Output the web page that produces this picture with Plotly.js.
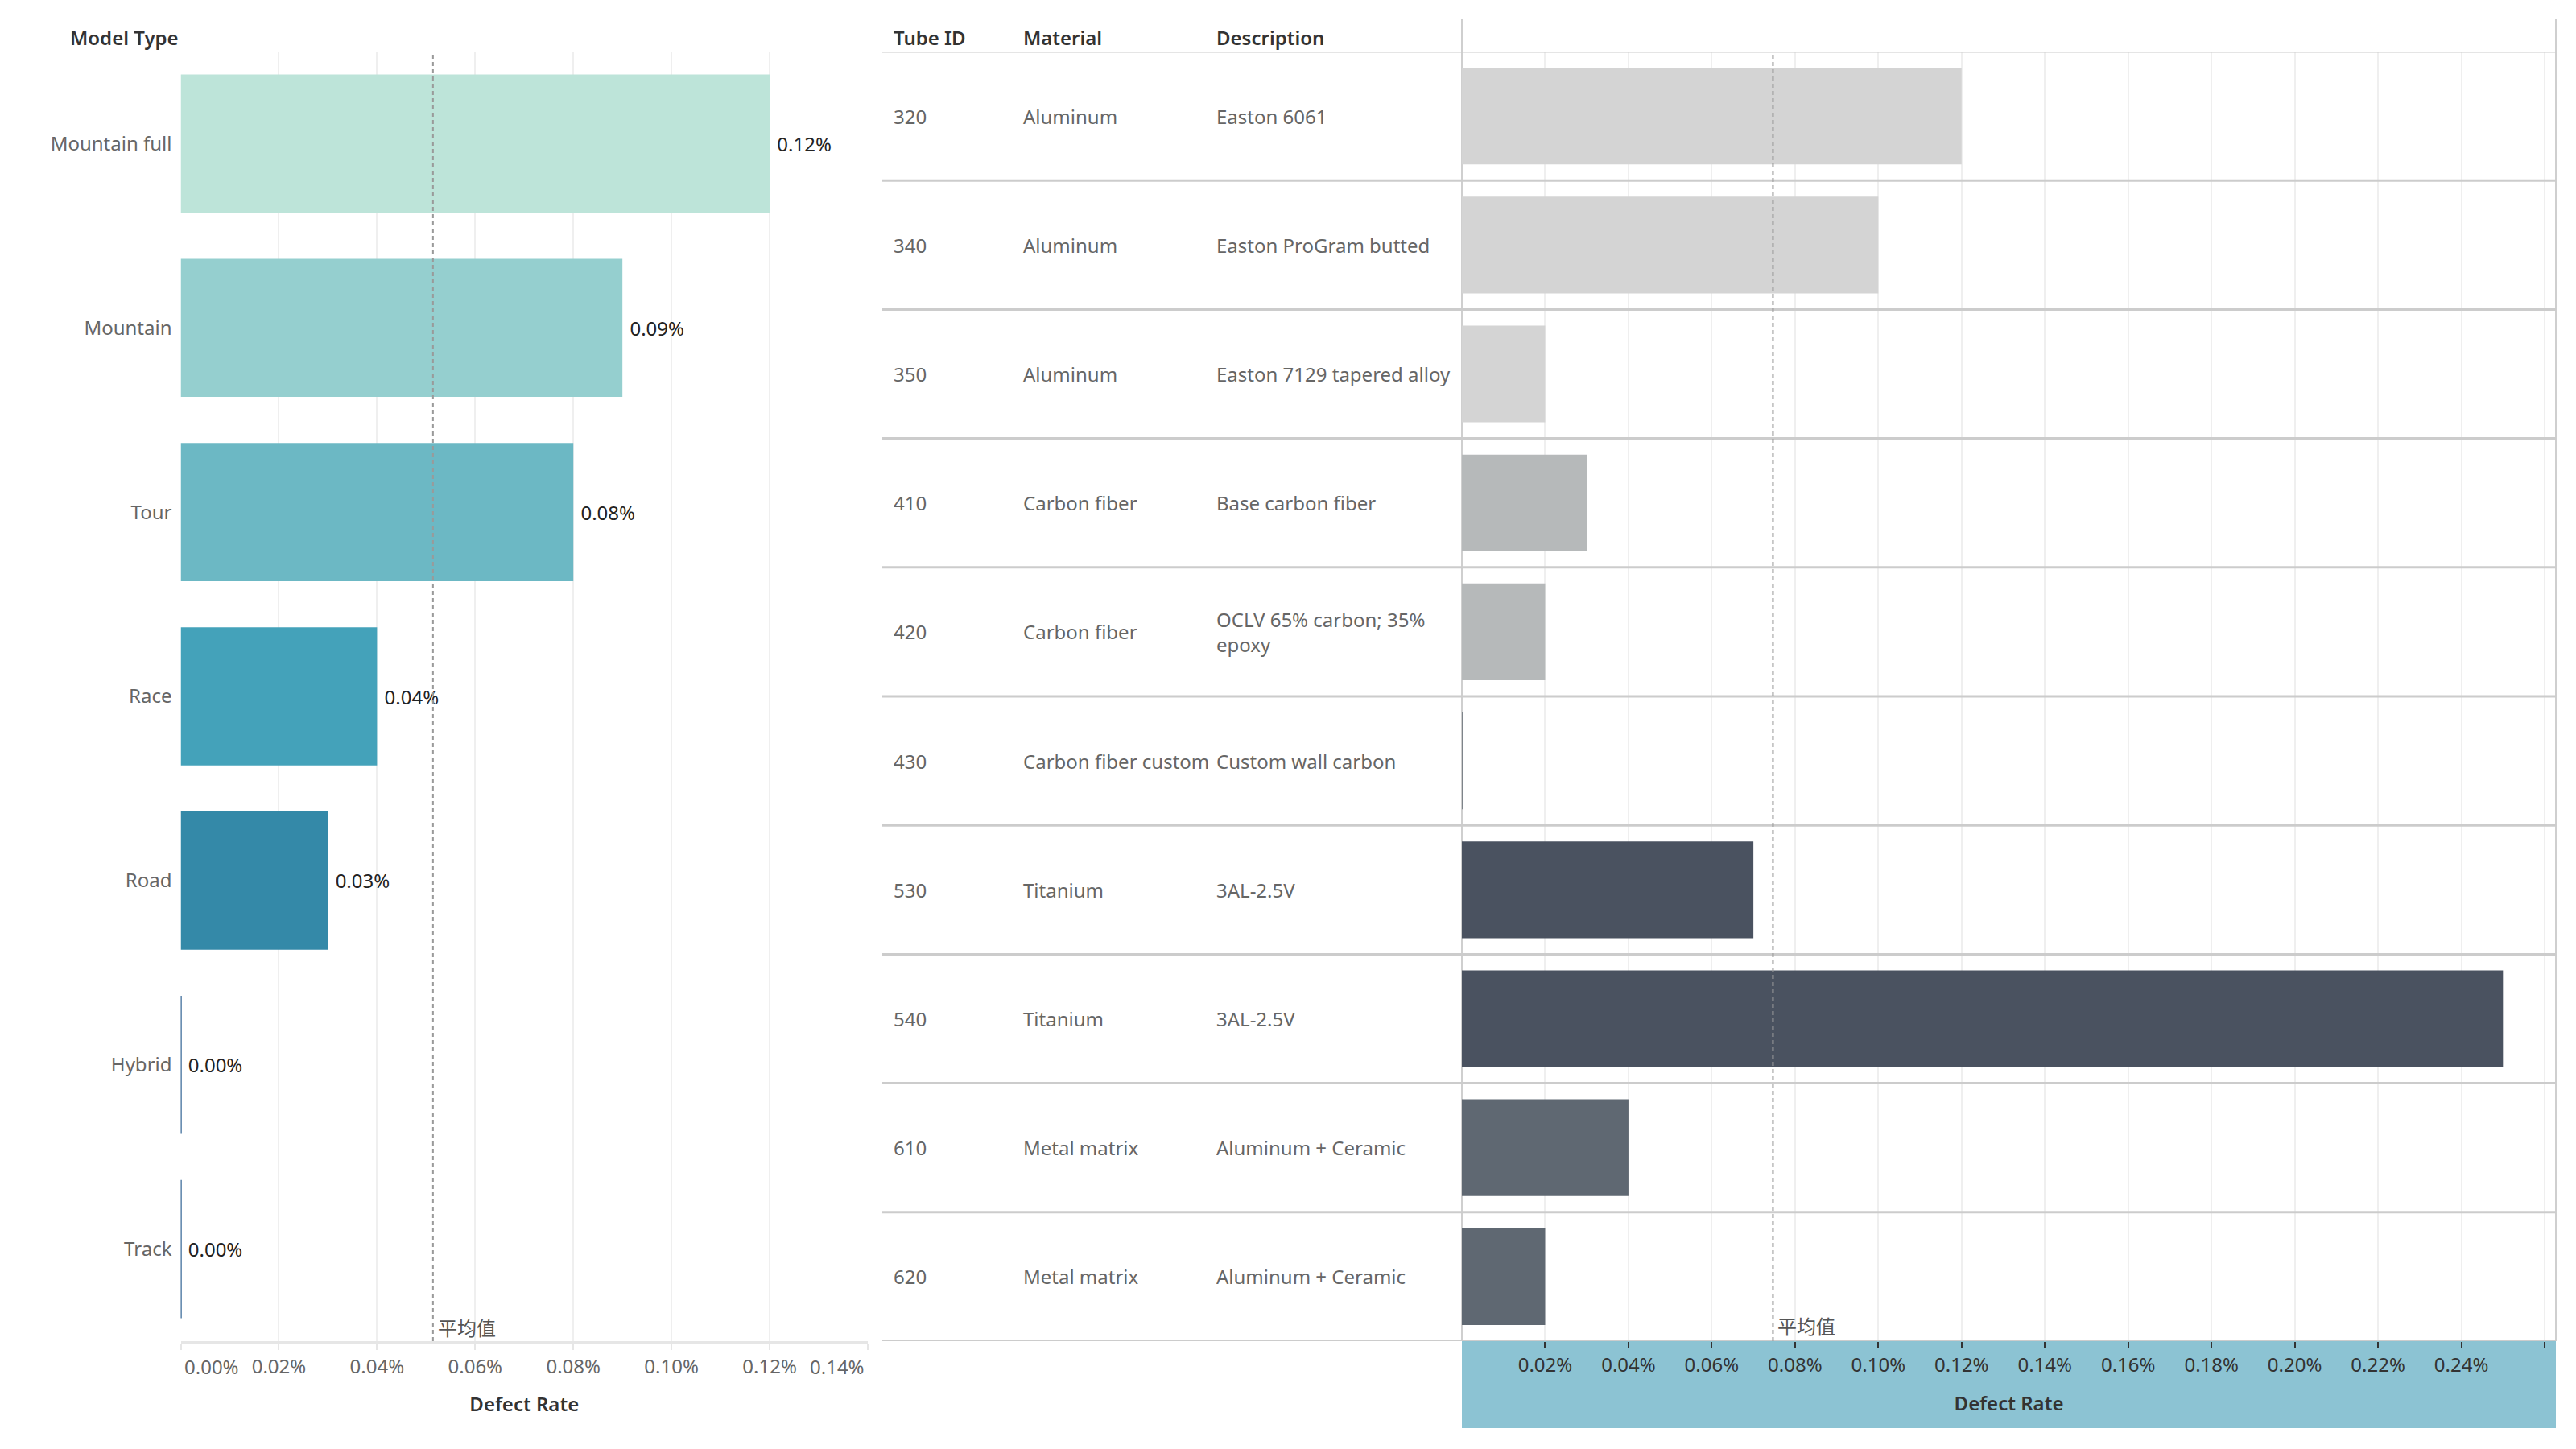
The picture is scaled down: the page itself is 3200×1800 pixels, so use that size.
<!DOCTYPE html>
<html>
<head>
<meta charset="utf-8">
<script src="https://cdn.plot.ly/plotly-3.0.1.min.js"></script>
<style>html,body{margin:0;padding:0;background:#fff;}#chart{width:3200px;height:1800px;}</style>
</head>
<body>
<div id="chart"></div>
<script>
// ---------- data ----------
const modelTypes = ['Mountain full', 'Mountain', 'Tour', 'Race', 'Road', 'Hybrid', 'Track'];
const modelDefectRate = [0.12, 0.09, 0.08, 0.04, 0.03, 0, 0];          // percent
const modelColors = ['#BDE4D9', '#95CFCF', '#6CB8C4', '#44A2BA', '#3489A8', '#3A6A98', '#3A6A98'];
const modelAverage = 0.0514;                                              // percent

const tubeIds = ['320', '340', '350', '410', '420', '430', '530', '540', '610', '620'];
const tubeMaterials = ['Aluminum', 'Aluminum', 'Aluminum', 'Carbon fiber', 'Carbon fiber',
  'Carbon fiber custom', 'Titanium', 'Titanium', 'Metal matrix', 'Metal matrix'];
const tubeDescriptions = ['Easton 6061', 'Easton ProGram butted', 'Easton 7129 tapered alloy',
  'Base carbon fiber', 'OCLV 65% carbon; 35%<br>epoxy', 'Custom wall carbon', '3AL-2.5V', '3AL-2.5V',
  'Aluminum + Ceramic', 'Aluminum + Ceramic'];
const tubeDefectRate = [0.12, 0.10, 0.02, 0.03, 0.02, 0, 0.07, 0.25, 0.04, 0.02];   // percent
const tubeAverage = 0.0747;                                               // percent
const materialColors = {
  'Aluminum': '#D4D4D4', 'Carbon fiber': '#B6B9BA', 'Carbon fiber custom': '#7E848A',
  'Titanium': '#4A5260', 'Metal matrix': '#5F6872'
};
const tableHeaders = ['Tube ID', 'Material', 'Description'];

const leftTicks = [0, 0.02, 0.04, 0.06, 0.08, 0.10, 0.12, 0.14];
const rightTicks = [0.02, 0.04, 0.06, 0.08, 0.10, 0.12, 0.14, 0.16, 0.18, 0.20, 0.22, 0.24, 0.26];
const pct = v => v.toFixed(2) + '%';

// ---------- styling ----------
const FONT = 'Noto Sans, Noto Sans CJK SC, sans-serif';
const CJK = 'Noto Sans CJK SC, Noto Sans, sans-serif';
const W = 3200, H = 1800;
const px = v => v / W, py = v => 1 - v / H;

const leftDom = [px(224.5), px(1078)];
const rightDom = [px(1816), px(3175)];
const yDom = [py(1666), py(64)];
const colX = [px(1108), px(1269), px(1509)];
const rowIndex = tubeIds.map((_, i) => i);   // row slot of each tube on the table axis

const zeroLineW = v => v === 0 ? 2.5 : 0;

const traces = [
  {
    type: 'bar', orientation: 'h', x: modelDefectRate, y: modelTypes, xaxis: 'x', yaxis: 'y',
    marker: { color: modelColors, line: { color: modelColors, width: modelDefectRate.map(zeroLineW) } },
    text: modelDefectRate.map(v => ' ' + pct(v)), textposition: 'outside', cliponaxis: false,
    textfont: { family: FONT, size: 24, color: '#222' }, hoverinfo: 'skip'
  },
  {
    type: 'bar', orientation: 'h', x: tubeDefectRate, y: rowIndex, xaxis: 'x2', yaxis: 'y2',
    marker: {
      color: tubeMaterials.map(m => materialColors[m]),
      line: { color: tubeMaterials.map(m => materialColors[m]), width: tubeDefectRate.map(zeroLineW) }
    },
    cliponaxis: false, hoverinfo: 'skip'
  }
];

const annotations = [];
annotations.push({ text: 'Model Type', xref: 'paper', yref: 'paper', x: px(85), y: py(47), xanchor: 'left', yanchor: 'middle',
  showarrow: false, font: { family: FONT, size: 24, color: '#333', weight: 600 } });
tableHeaders.forEach((h, i) => annotations.push({ text: h, xref: 'paper', yref: 'paper', x: colX[i], y: py(47),
  xanchor: 'left', yanchor: 'middle', showarrow: false, font: { family: FONT, size: 24, color: '#333', weight: 600 } }));
tubeIds.forEach((id, r) => {
  [id, tubeMaterials[r], tubeDescriptions[r]].forEach((t, c) => annotations.push({
    text: t, xref: 'paper', yref: 'y2', x: colX[c], y: rowIndex[r], xanchor: 'left', yanchor: 'middle', align: 'left',
    showarrow: false, font: { family: FONT, size: 24, color: '#666' }
  }));
});
// end tick labels of the left axis (kept inside the pane)
annotations.push({ text: pct(leftTicks[0]), xref: 'x', yref: 'paper', x: leftTicks[0], y: py(1697), xanchor: 'left',
  yanchor: 'middle', xshift: 2, showarrow: false, font: { family: FONT, size: 24, color: '#666' } });
annotations.push({ text: pct(leftTicks[leftTicks.length - 1]), xref: 'x', yref: 'paper', x: leftTicks[leftTicks.length - 1],
  y: py(1697), xanchor: 'right', yanchor: 'middle', xshift: -2, showarrow: false, font: { family: FONT, size: 24, color: '#666' } });
// average labels
annotations.push({ text: '平均值', xref: 'x', yref: 'paper', x: modelAverage, y: py(1648), xanchor: 'left', yanchor: 'middle',
  xshift: 4, showarrow: false, font: { family: CJK, size: 24, color: '#555' } });
annotations.push({ text: '平均值', xref: 'x2', yref: 'paper', x: tubeAverage, y: py(1646), xanchor: 'left', yanchor: 'middle',
  xshift: 4, showarrow: false, font: { family: CJK, size: 24, color: '#555' } });

const shapes = [];
// teal axis band
shapes.push({ type: 'rect', xref: 'paper', yref: 'paper', x0: rightDom[0], x1: rightDom[1], y0: py(1774), y1: py(1666),
  fillcolor: '#8CC3D3', line: { width: 0 }, layer: 'below' });
// table row rules
for (let i = 0; i <= tubeIds.length; i++) {
  shapes.push({ type: 'line', xref: 'paper', yref: 'y2', x0: px(1096), x1: rightDom[1], y0: i - 0.5, y1: i - 0.5,
    line: { color: '#cccccc', width: 3 }, layer: 'above' });
}
// pane borders (below the bars so a zero-length bar stays visible)
rightDom.forEach(x => shapes.push({ type: 'line', xref: 'paper', yref: 'paper', x0: x, x1: x, y0: py(1666), y1: py(24),
  line: { color: '#cfcfcf', width: 2 }, layer: 'below' }));
// average reference lines
shapes.push({ type: 'line', xref: 'x', yref: 'y domain', x0: modelAverage, x1: modelAverage, y0: 0, y1: 1,
  line: { color: '#9a9a9a', width: 2, dash: '5px,4px' } });
shapes.push({ type: 'line', xref: 'x2', yref: 'y2 domain', x0: tubeAverage, x1: tubeAverage, y0: 0, y1: 1,
  line: { color: '#9a9a9a', width: 2, dash: '5px,4px' } });

const layout = {
  width: W, height: H, margin: { l: 0, r: 0, t: 0, b: 0, pad: 0 },
  paper_bgcolor: '#ffffff', plot_bgcolor: 'rgba(0,0,0,0)', showlegend: false, bargap: 0.25,
  font: { family: FONT, size: 24, color: '#666' }, hovermode: false,
  xaxis: {
    domain: leftDom, anchor: 'y', range: [0, 0.14], tickvals: leftTicks,
    ticktext: leftTicks.map((v, i) => (i === 0 || i === leftTicks.length - 1) ? '' : pct(v)),
    showgrid: true, gridcolor: '#efefef', gridwidth: 2, zeroline: false,
    showline: true, linecolor: '#e6e6e6', linewidth: 3, ticks: 'outside', ticklen: 8, tickwidth: 2, tickcolor: '#e6e6e6',
    tickfont: { family: FONT, size: 24, color: '#666' },
    title: { text: 'Defect Rate', standoff: 25, font: { family: FONT, size: 24, color: '#333', weight: 600 } },
    fixedrange: true
  },
  yaxis: {
    domain: yDom, anchor: 'x', type: 'category', categoryorder: 'array', categoryarray: modelTypes, autorange: 'reversed',
    showgrid: false, zeroline: false, showline: false, ticks: '', ticklabelstandoff: 10,
    tickfont: { family: FONT, size: 24, color: '#666' }, fixedrange: true
  },
  xaxis2: {
    domain: rightDom, anchor: 'y2', range: [0, 0.2627], tickvals: rightTicks,
    ticktext: rightTicks.map((v, i) => i === rightTicks.length - 1 ? '' : pct(v)),
    showgrid: true, gridcolor: '#efefef', gridwidth: 2, zeroline: false, showline: false,
    ticks: 'outside', ticklen: 8, tickwidth: 2, tickcolor: '#333',
    tickfont: { family: FONT, size: 24, color: '#333' },
    title: { text: 'Defect Rate', standoff: 25, font: { family: FONT, size: 24, color: '#333', weight: 600 } },
    fixedrange: true
  },
  yaxis2: {
    domain: yDom, anchor: 'x2', type: 'linear', range: [tubeIds.length - 0.5, -0.5],
    showgrid: false, zeroline: false, showline: false, showticklabels: false, ticks: '', fixedrange: true
  },
  annotations: annotations, shapes: shapes
};

Plotly.newPlot('chart', traces, layout, { staticPlot: true, displayModeBar: false });
</script>
</body>
</html>
